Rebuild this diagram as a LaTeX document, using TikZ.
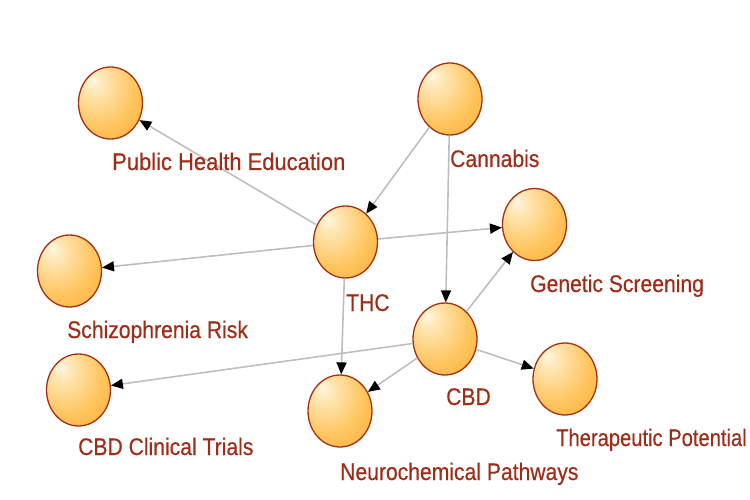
\documentclass[tikz,border=0pt]{standalone}
\usepackage{fontspec}
\newfontfamily\labfont[FakeStretch=0.88,FakeBold=0.4]{Liberation Sans}
\newfontfamily\labfontn[FakeStretch=0.84,FakeBold=0.4]{Liberation Sans}
\newfontfamily\labfontw[FakeStretch=0.915,FakeBold=0.4]{Liberation Sans}
\usetikzlibrary{arrows.meta,shapes.geometric}
\definecolor{hl}{RGB}{255,249,228}
\definecolor{mid}{RGB}{255,196,92}
\definecolor{edgeor}{RGB}{249,150,34}
\definecolor{border}{RGB}{165,48,18}
\definecolor{labc}{RGB}{158,44,22}
\definecolor{linec}{RGB}{190,190,190}
\pgfdeclareradialshading{orb}{\pgfpoint{-14bp}{16bp}}{color(0bp)=(hl); color(6bp)=(hl!70!mid); color(28bp)=(mid); color(62bp)=(edgeor); color(80bp)=(edgeor)}
\tikzset{
  ball/.style={ellipse, minimum width=64pt, minimum height=72pt, inner sep=0pt, draw=border, line width=1.3pt, shading=orb},
  link/.style={draw=linec, line width=1.6pt, -{Triangle[black,length=12pt,width=10pt]}},
  lab/.style={anchor=base west, inner sep=0pt, text=labc, font=\labfont\fontsize{24}{28}\selectfont},
  labn/.style={lab, font=\labfontn\fontsize{24}{28}\selectfont},
  labw/.style={lab, font=\labfontw\fontsize{24}{28}\selectfont}
}
\begin{document}
\begin{tikzpicture}[x=1pt,y=-1pt]
\useasboundingbox (0,0) rectangle (750,500);
\node[ball] (can) at (450,99) {};
\node[ball] (pub) at (110.5,103) {};
\node[ball] (thc) at (345.5,242) {};
\node[ball] (gen) at (534.5,224.5) {};
\node[ball] (sch) at (69.5,271) {};
\node[ball] (cbd) at (445,339) {};
\node[ball] (tri) at (78.5,390) {};
\node[ball] (neu) at (340,411) {};
\node[ball] (the) at (565,379) {};
\draw[link] (can) -- (thc);
\draw[link] (can) -- (cbd);
\draw[link] (thc) -- (pub);
\draw[link] (thc) -- (sch);
\draw[link] (thc) -- (gen);
\draw[link] (thc) -- (neu);
\draw[link] (cbd) -- (gen);
\draw[link] (cbd) -- (tri);
\draw[link] (cbd) -- (neu);
\draw[link] (cbd) -- (the);
\node[lab] (lcan) at (450,167) {Cannabis};
\node[labw] (lpub) at (112,170) {Public Health Education};
\node[lab] (lthc) at (346,311) {THC};
\node[lab] (lgen) at (530,292) {Genetic Screening};
\node[lab] (lsch) at (67,338) {Schizophrenia Risk};
\node[lab] (lcbd) at (446,405) {CBD};
\node[lab] (ltri) at (78,455) {CBD Clinical Trials};
\node[lab] (lneu) at (340,480) {Neurochemical Pathways};
\node[labn] (lthe) at (556,446) {Therapeutic Potential};
\end{tikzpicture}
\end{document}
